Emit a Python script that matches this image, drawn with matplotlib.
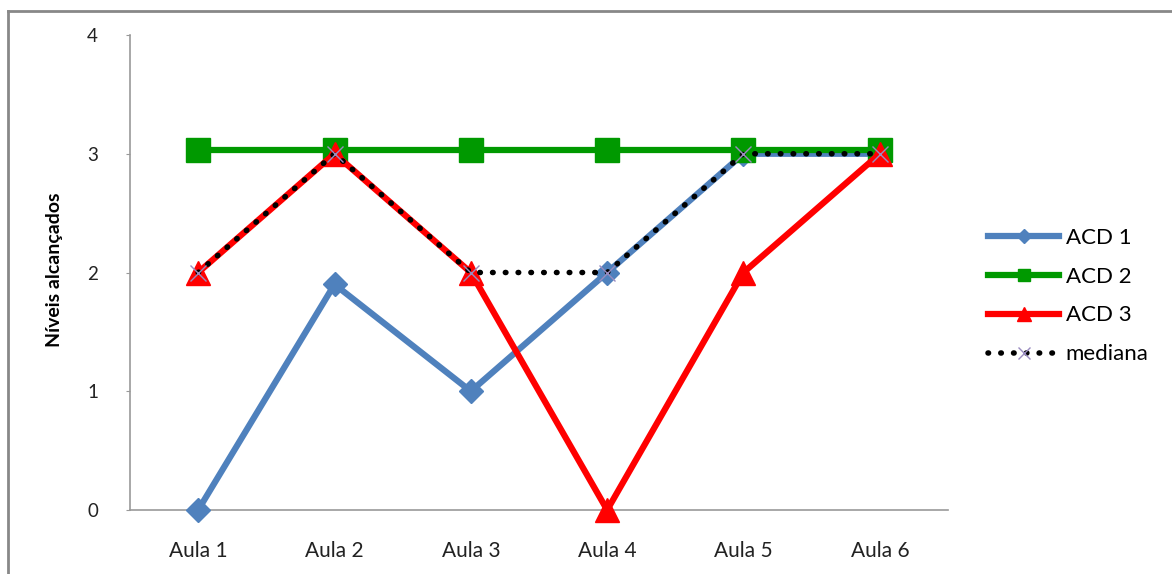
import matplotlib
matplotlib.use("Agg")
from matplotlib import pyplot as plt
from matplotlib.lines import Line2D

# chart data
aulas = ["Aula 1", "Aula 2", "Aula 3", "Aula 4", "Aula 5", "Aula 6"]
acd1 = [0, 1.9, 1, 2, 3, 3]
acd2 = [3.03, 3.03, 3.03, 3.03, 3.03, 3.03]
acd3 = [2, 3, 2, 0, 2, 3]
mediana = [2, 3, 2, 2, 3, 3]
yticks = [0, 1, 2, 3, 4]

plt.rcParams['font.family'] = ['Lato', 'DejaVu Sans']

fig = plt.figure(figsize=(11.72, 5.74), dpi=100)
ax = fig.add_axes([130 / 1172, 1 - 510 / 574, 818 / 1172, 475 / 574])

x = list(range(len(aulas)))

ax.plot(x, acd1, color="#4F81BD", lw=4.5, marker="D", ms=12, label="ACD 1", zorder=3, clip_on=False)
ax.plot(x, acd2, color="#009900", lw=4.5, marker="s", ms=17, label="ACD 2", zorder=4, clip_on=False)
ax.plot(x, acd3, color="#FF0000", lw=4.5, marker="^", ms=17, label="ACD 3", zorder=5, clip_on=False)
ax.plot(x, mediana, color="black", lw=4, ls=(0, (0.1, 2.2)), dash_capstyle="round",
        marker="x", ms=12, mec="#9A8CC0", mew=1, label="mediana", zorder=6, clip_on=False)

ax.set_xlim(-0.5, 5.5)
ax.set_ylim(0, 4)
ax.set_xticks(x)
ax.set_xticklabels(aulas, fontsize=15, color="#222222")
ax.set_yticks(yticks)
ax.set_yticklabels([str(v) for v in yticks], fontsize=13.5, color="#222222")
ax.tick_params(axis="x", length=0, pad=22)
ax.tick_params(axis="y", length=3, pad=20, color="#999999")

for s in ["top", "right"]:
    ax.spines[s].set_visible(False)
for s in ["left", "bottom"]:
    ax.spines[s].set_color("#999999")
    ax.spines[s].set_linewidth(1.2)
ax.spines["bottom"].set_zorder(1)

fig.text(55 / 1172, 1 - 270 / 574, "Níveis alcançados", rotation=90, fontsize=14,
         ha="center", va="center", fontweight="bold")

handles = [
    Line2D([], [], color="#4F81BD", lw=4.5, marker="D", ms=7),
    Line2D([], [], color="#009900", lw=4.5, marker="s", ms=9),
    Line2D([], [], color="#FF0000", lw=4.5, marker="^", ms=10),
    Line2D([], [], color="black", lw=4, ls=(0, (0.1, 2.2)), dash_capstyle="round",
           marker="x", ms=9, mec="#9A8CC0", mew=1),
]
fig.legend(handles, ["ACD 1", "ACD 2", "ACD 3", "mediana"], loc="center left",
           bbox_to_anchor=(988 / 1172, 1 - 296 / 574), frameon=False, fontsize=16,
           handlelength=3.2, handletextpad=0.3, labelspacing=0.85,
           borderpad=0, borderaxespad=0)

# outer frame (top and left edges visible)
fig.add_artist(Line2D([8 / 1172, 8 / 1172], [0, 1 - 11 / 574], color="#888888", lw=2,
                      transform=fig.transFigure))
fig.add_artist(Line2D([8 / 1172, 1], [1 - 11 / 574, 1 - 11 / 574], color="#888888", lw=2,
                      transform=fig.transFigure))

fig.savefig("out.png", dpi=100)
